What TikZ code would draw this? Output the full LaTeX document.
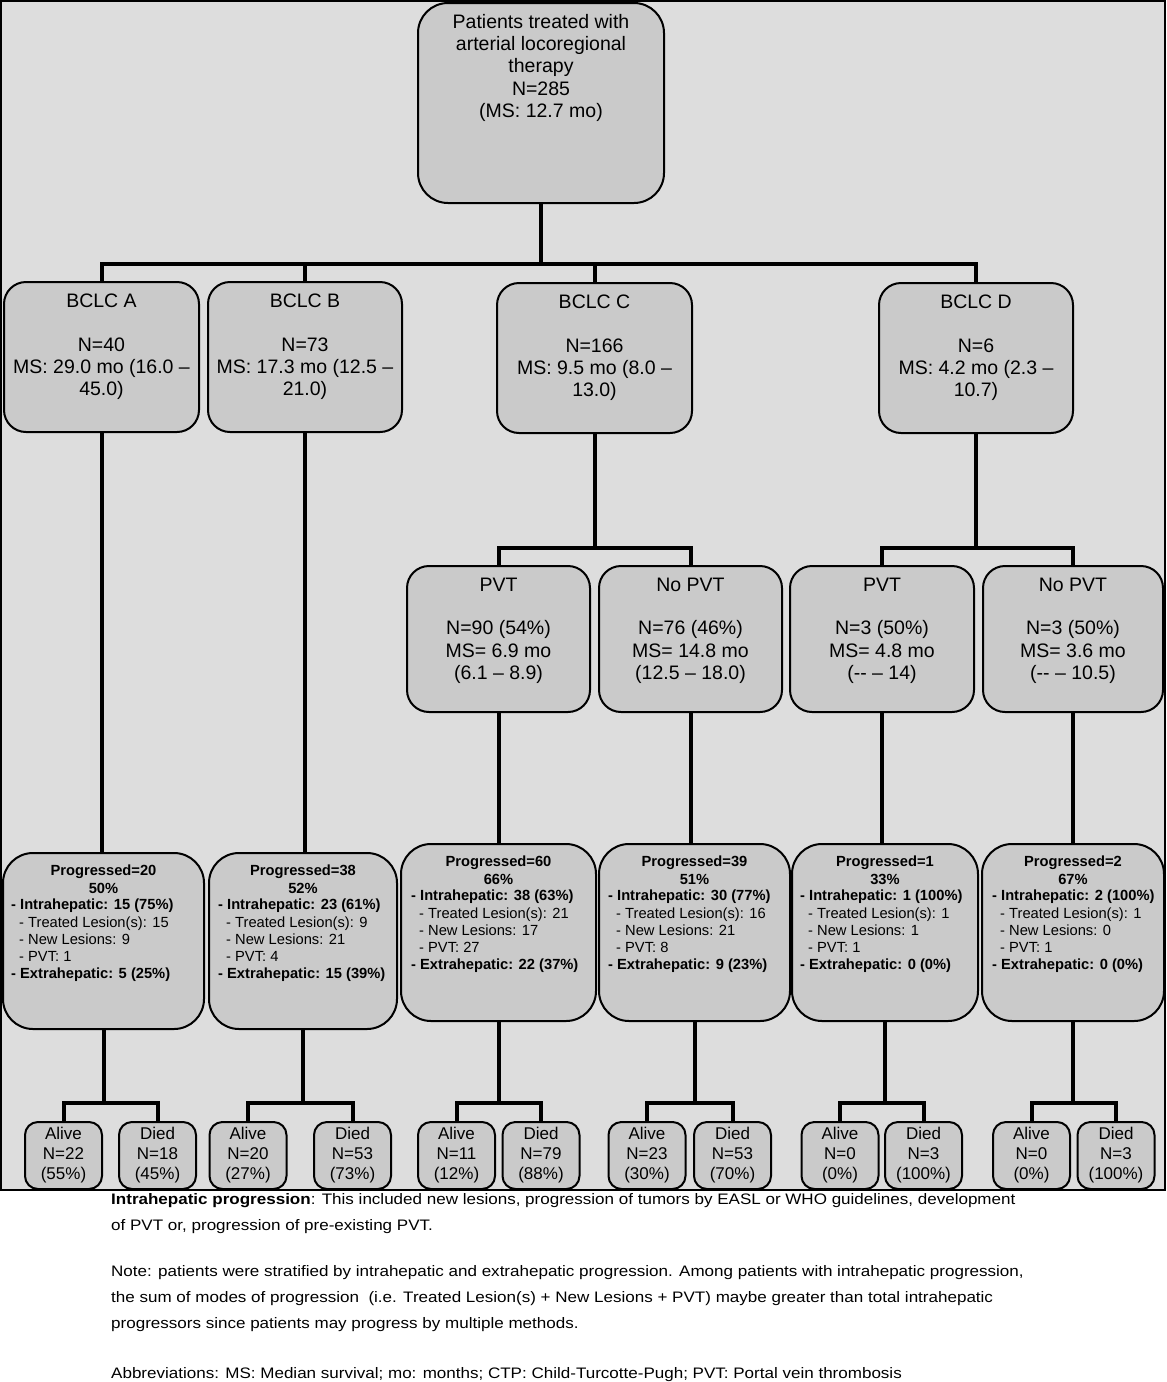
\documentclass[tikz,border=0pt]{standalone}
\usepackage{fontspec}
\setmainfont{Liberation Sans}
\newfontfamily\widefont[FakeStretch=1.12]{Liberation Sans}
\usetikzlibrary{positioning}
\definecolor{framegray}{RGB}{221,221,221}
\definecolor{boxgray}{RGB}{202,202,202}
\tikzset{
  box/.style={draw=black,line width=2pt,fill=boxgray,rounded corners=22pt,inner sep=0pt},
  conn/.style={line width=4pt},
  bigtxt/.style={font=\fontsize{19.5}{22.3}\selectfont,align=center,inner sep=0pt},
  headtxt/.style={font=\fontsize{14.7}{17.2}\selectfont\bfseries,align=center,inner sep=0pt},
  listtxt/.style={font=\fontsize{14.7}{17.2}\selectfont,align=left,inner sep=0pt},
  smalltxt/.style={font=\fontsize{17}{20}\selectfont,align=center},
  foottxt/.style={font=\widefont\fontsize{15.2}{26}\selectfont,align=left,inner sep=0pt}
}
\begin{document}
\begin{tikzpicture}[x=1pt,y=-1pt]
\useasboundingbox (0,0) rectangle (1167,1382);
\draw[line width=2pt,fill=framegray] (1,1) rectangle (1165,1190);

% boxes
\node[box,rounded corners=30pt,minimum width=246pt,minimum height=200pt] (top) at (541,103) {};
\node[box,minimum width=195pt,minimum height=150pt] (bA) at (101.5,357) {};
\node[box,minimum width=194pt,minimum height=150pt] (bB) at (305,357) {};
\node[box,minimum width=195pt,minimum height=150pt] (bC) at (594.5,358) {};
\node[box,minimum width=194pt,minimum height=150pt] (bD) at (976,358) {};
\node[box,minimum width=183pt,minimum height=146pt] (pvtC) at (498.5,639) {};
\node[box,minimum width=183pt,minimum height=146pt] (nopvtC) at (690.5,639) {};
\node[box,minimum width=184pt,minimum height=146pt] (pvtD) at (882,639) {};
\node[box,minimum width=180pt,minimum height=146pt] (nopvtD) at (1073,639) {};
\node[box,rounded corners=30pt,minimum width=201pt,minimum height=176pt] (progA) at (103.5,941) {};
\node[box,rounded corners=30pt,minimum width=188pt,minimum height=176pt] (progB) at (303,941) {};
\node[box,rounded corners=30pt,minimum width=195pt,minimum height=177pt] (progC1) at (498.5,932.5) {};
\node[box,rounded corners=30pt,minimum width=191pt,minimum height=177pt] (progC2) at (694.5,932.5) {};
\node[box,rounded corners=30pt,minimum width=186pt,minimum height=177pt] (progD1) at (885,932.5) {};
\node[box,rounded corners=30pt,minimum width=182pt,minimum height=177pt] (progD2) at (1073,932.5) {};

% connectors
\coordinate (j0) at (541,264);
\draw[conn] (top.south) -- (top.south |- j0);
\draw[conn] (bA.north) |- (j0) -| (bD.north);
\draw[conn] (bB.north) -- (bB.north |- j0);
\draw[conn] (bC.north) -- (bC.north |- j0);
\coordinate (jC) at (594.5,548);
\draw[conn] (bC.south) -- (bC.south |- jC);
\draw[conn] (pvtC.north) |- (jC) -| (nopvtC.north);
\coordinate (jD) at (976,548);
\draw[conn] (bD.south) -- (bD.south |- jD);
\draw[conn] (pvtD.north) |- (jD) -| (nopvtD.north);
\draw[conn] (bA.south) -- (bA.south |- progA.north);
\draw[conn] (bB.south) -- (bB.south |- progB.north);
\draw[conn] (pvtC.south) -- (pvtC.south |- progC1.north);
\draw[conn] (nopvtC.south) -- (nopvtC.south |- progC2.north);
\draw[conn] (pvtD.south) -- (pvtD.south |- progD1.north);
\draw[conn] (nopvtD.south) -- (nopvtD.south |- progD2.north);

% texts
\node[bigtxt,below=12pt of top.north] (toptxt) {Patients treated with\\arterial locoregional\\therapy\\N=285\\(MS: 12.7 mo)};
\node[bigtxt,below=13pt of bA.north] (bAtxt) {BCLC A\\[21pt]N=40\\MS: 29.0 mo (16.0 --\\45.0)};
\node[bigtxt,below=13pt of bB.north] (bBtxt) {BCLC B\\[21pt]N=73\\MS: 17.3 mo (12.5 --\\21.0)};
\node[bigtxt,below=13pt of bC.north] (bCtxt) {BCLC C\\[21pt]N=166\\MS: 9.5 mo (8.0 --\\13.0)};
\node[bigtxt,below=13pt of bD.north] (bDtxt) {BCLC D\\[21pt]N=6\\MS: 4.2 mo (2.3 --\\10.7)};
\node[bigtxt,below=13pt of pvtC.north] (pvtCtxt) {PVT\\[21pt]N=90 (54\%)\\MS= 6.9 mo\\(6.1 -- 8.9)};
\node[bigtxt,below=13pt of nopvtC.north] (nopvtCtxt) {No PVT\\[21pt]N=76 (46\%)\\MS= 14.8 mo\\(12.5 -- 18.0)};
\node[bigtxt,below=13pt of pvtD.north] (pvtDtxt) {PVT\\[21pt]N=3 (50\%)\\MS= 4.8 mo\\(-{}- -- 14)};
\node[bigtxt,below=13pt of nopvtD.north] (nopvtDtxt) {No PVT\\[21pt]N=3 (50\%)\\MS= 3.6 mo\\(-{}- -- 10.5)};

\node[headtxt,below=13pt of progA.north] (progAhead) {Progressed=20\\50\%};
\node[listtxt,below right=47pt and 9pt of progA.north west] (progAlist) {\textbf{- Intrahepatic: 15 (75\%)}\\\hspace*{8pt}- Treated Lesion(s): 15\\\hspace*{8pt}- New Lesions: 9\\\hspace*{8pt}- PVT: 1\\\textbf{- Extrahepatic: 5 (25\%)}};
\node[headtxt,below=13pt of progB.north] (progBhead) {Progressed=38\\52\%};
\node[listtxt,below right=47pt and 10pt of progB.north west] (progBlist) {\textbf{- Intrahepatic: 23 (61\%)}\\\hspace*{8pt}- Treated Lesion(s): 9\\\hspace*{8pt}- New Lesions: 21\\\hspace*{8pt}- PVT: 4\\\textbf{- Extrahepatic: 15 (39\%)}};
\node[headtxt,below=13pt of progC1.north] (progC1head) {Progressed=60\\66\%};
\node[listtxt,below right=47pt and 11pt of progC1.north west] (progC1list) {\textbf{- Intrahepatic: 38 (63\%)}\\\hspace*{8pt}- Treated Lesion(s): 21\\\hspace*{8pt}- New Lesions: 17\\\hspace*{8pt}- PVT: 27\\\textbf{- Extrahepatic: 22 (37\%)}};
\node[headtxt,below=13pt of progC2.north] (progC2head) {Progressed=39\\51\%};
\node[listtxt,below right=47pt and 10pt of progC2.north west] (progC2list) {\textbf{- Intrahepatic: 30 (77\%)}\\\hspace*{8pt}- Treated Lesion(s): 16\\\hspace*{8pt}- New Lesions: 21\\\hspace*{8pt}- PVT: 8\\\textbf{- Extrahepatic: 9 (23\%)}};
\node[headtxt,below=13pt of progD1.north] (progD1head) {Progressed=1\\33\%};
\node[listtxt,below right=47pt and 9pt of progD1.north west] (progD1list) {\textbf{- Intrahepatic: 1 (100\%)}\\\hspace*{8pt}- Treated Lesion(s): 1\\\hspace*{8pt}- New Lesions: 1\\\hspace*{8pt}- PVT: 1\\\textbf{- Extrahepatic: 0 (0\%)}};
\node[headtxt,below=13pt of progD2.north] (progD2head) {Progressed=2\\67\%};
\node[listtxt,below right=47pt and 11pt of progD2.north west] (progD2list) {\textbf{- Intrahepatic: 2 (100\%)}\\\hspace*{8pt}- Treated Lesion(s): 1\\\hspace*{8pt}- New Lesions: 0\\\hspace*{8pt}- PVT: 1\\\textbf{- Extrahepatic: 0 (0\%)}};

% alive / died
\node[box,smalltxt,rounded corners=13pt,minimum width=77pt,minimum height=67pt] (aA) at (63.5,1155.5) {Alive\\N=22\\(55\%)};
\node[box,smalltxt,rounded corners=13pt,minimum width=77pt,minimum height=67pt] (dA) at (157.5,1155.5) {Died\\N=18\\(45\%)};
\node[box,smalltxt,rounded corners=13pt,minimum width=77pt,minimum height=67pt] (aB) at (248,1155.5) {Alive\\N=20\\(27\%)};
\node[box,smalltxt,rounded corners=13pt,minimum width=77pt,minimum height=67pt] (dB) at (352.5,1155.5) {Died\\N=53\\(73\%)};
\node[box,smalltxt,rounded corners=13pt,minimum width=77pt,minimum height=67pt] (aC1) at (456.5,1155.5) {Alive\\N=11\\(12\%)};
\node[box,smalltxt,rounded corners=13pt,minimum width=77pt,minimum height=67pt] (dC1) at (541,1155.5) {Died\\N=79\\(88\%)};
\node[box,smalltxt,rounded corners=13pt,minimum width=77pt,minimum height=67pt] (aC2) at (647,1155.5) {Alive\\N=23\\(30\%)};
\node[box,smalltxt,rounded corners=13pt,minimum width=77pt,minimum height=67pt] (dC2) at (732.5,1155.5) {Died\\N=53\\(70\%)};
\node[box,smalltxt,rounded corners=13pt,minimum width=77pt,minimum height=67pt] (aD1) at (840,1155.5) {Alive\\N=0\\(0\%)};
\node[box,smalltxt,rounded corners=13pt,minimum width=77pt,minimum height=67pt] (dD1) at (923.5,1155.5) {Died\\N=3\\(100\%)};
\node[box,smalltxt,rounded corners=13pt,minimum width=77pt,minimum height=67pt] (aD2) at (1031.5,1155.5) {Alive\\N=0\\(0\%)};
\node[box,smalltxt,rounded corners=13pt,minimum width=77pt,minimum height=67pt] (dD2) at (1116,1155.5) {Died\\N=3\\(100\%)};

\coordinate (kA) at (103,1103);
\draw[conn] (progA.south) -- (progA.south |- kA);
\draw[conn] (aA.north) |- (kA) -| (dA.north);
\coordinate (kB) at (303,1103);
\draw[conn] (progB.south) -- (progB.south |- kB);
\draw[conn] (aB.north) |- (kB) -| (dB.north);
\coordinate (kC1) at (498,1103);
\draw[conn] (progC1.south) -- (progC1.south |- kC1);
\draw[conn] (aC1.north) |- (kC1) -| (dC1.north);
\coordinate (kC2) at (694,1103);
\draw[conn] (progC2.south) -- (progC2.south |- kC2);
\draw[conn] (aC2.north) |- (kC2) -| (dC2.north);
\coordinate (kD1) at (884,1103);
\draw[conn] (progD1.south) -- (progD1.south |- kD1);
\draw[conn] (aD1.north) |- (kD1) -| (dD1.north);
\coordinate (kD2) at (1073,1103);
\draw[conn] (progD2.south) -- (progD2.south |- kD2);
\draw[conn] (aD2.north) |- (kD2) -| (dD2.north);

% footnotes
\node[foottxt,anchor=north west] (notes) at (111,1193) {\textbf{Intrahepatic progression}: This included new lesions, progression of tumors by EASL or WHO guidelines, development\\of PVT or, progression of pre-existing PVT.\\[20pt]Note: patients were stratified by intrahepatic and extrahepatic progression. Among patients with intrahepatic progression,\\the sum of modes of progression\ \ (i.e. Treated Lesion(s) + New Lesions + PVT) maybe greater than total intrahepatic\\progressors since patients may progress by multiple methods.\\[24pt]Abbreviations: MS: Median survival; mo: months; CTP: Child-Turcotte-Pugh; PVT: Portal vein thrombosis};
\end{tikzpicture}
\end{document}
